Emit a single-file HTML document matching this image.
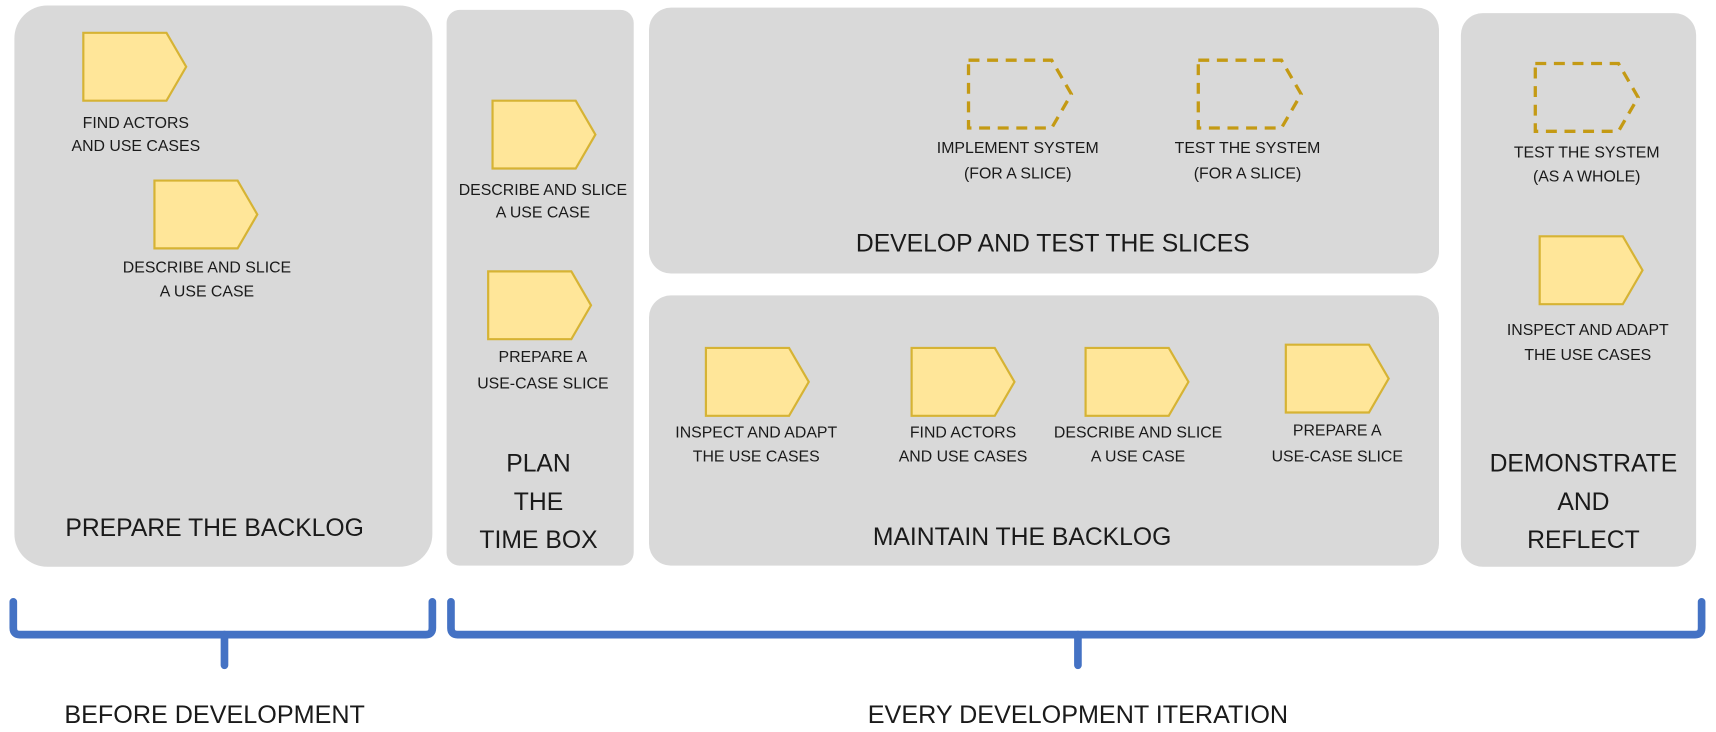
<!DOCTYPE html>
<html><head><style>html,body{margin:0;padding:0;background:#fff}svg{display:block}</style></head>
<body>
<svg width="1716" height="732" viewBox="0 0 1568 669" xmlns="http://www.w3.org/2000/svg" font-family="'Liberation Sans', sans-serif" fill="#1a1a1a">
<defs>
<symbol id="p" overflow="visible"><path d="M0,0 H76 L94,31 L76,62 H0 Z" fill="#ffe699" stroke="#d6b334" stroke-width="2"/></symbol>
<symbol id="d" overflow="visible"><path d="M0,0 H76 L94,31 L76,62 H0 Z" fill="none" stroke="#c49a14" stroke-width="3" stroke-dasharray="10,7"/></symbol>
</defs>
<g fill="#d9d9d9">
<rect x="13" y="5" width="382" height="513" rx="30"/>
<rect x="408" y="9" width="171" height="508" rx="12"/>
<rect x="593" y="7" width="722" height="243" rx="20"/>
<rect x="593" y="270" width="722" height="247" rx="20"/>
<rect x="1335" y="12" width="215" height="506" rx="20"/>
</g>
<use href="#p" x="76" y="30"/><use href="#p" x="141" y="165"/>
<use href="#p" x="450" y="92"/><use href="#p" x="446" y="248"/>
<use href="#d" x="885" y="55"/><use href="#d" x="1095" y="55"/><use href="#d" x="1403" y="58"/>
<use href="#p" x="1407" y="216"/>
<use href="#p" x="645" y="318"/><use href="#p" x="833" y="318"/><use href="#p" x="992" y="318"/><use href="#p" x="1175" y="315"/>
<g font-size="14.5" text-anchor="middle">
<text x="124" y="117">FIND ACTORS</text><text x="124" y="138">AND USE CASES</text>
<text x="189" y="249">DESCRIBE AND SLICE</text><text x="189" y="271">A USE CASE</text>
<text x="496" y="178">DESCRIBE AND SLICE</text><text x="496" y="199">A USE CASE</text>
<text x="496" y="331">PREPARE A</text><text x="496" y="355">USE-CASE SLICE</text>
<text x="930" y="140">IMPLEMENT SYSTEM</text><text x="930" y="163">(FOR A SLICE)</text>
<text x="1140" y="140">TEST THE SYSTEM</text><text x="1140" y="163">(FOR A SLICE)</text>
<text x="1450" y="144">TEST THE SYSTEM</text><text x="1450" y="166">(AS A WHOLE)</text>
<text x="1451" y="306">INSPECT AND ADAPT</text><text x="1451" y="329">THE USE CASES</text>
<text x="691" y="400">INSPECT AND ADAPT</text><text x="691" y="422">THE USE CASES</text>
<text x="880" y="400">FIND ACTORS</text><text x="880" y="422">AND USE CASES</text>
<text x="1040" y="400">DESCRIBE AND SLICE</text><text x="1040" y="422">A USE CASE</text>
<text x="1222" y="398">PREPARE A</text><text x="1222" y="422">USE-CASE SLICE</text>
</g>
<g font-size="22.6" text-anchor="middle">
<text x="196" y="490">PREPARE THE BACKLOG</text>
<text x="492" y="431">PLAN</text><text x="492" y="466">THE</text><text x="492" y="501">TIME BOX</text>
<text x="962" y="230">DEVELOP AND TEST THE SLICES</text>
<text x="934" y="498">MAINTAIN THE BACKLOG</text>
<text x="1447" y="431">DEMONSTRATE</text><text x="1447" y="466">AND</text><text x="1447" y="501">REFLECT</text>
</g>
<g fill="none" stroke="#4472c4" stroke-width="7" stroke-linecap="round">
<path d="M12,550 V574 Q12,580 18,580 H389 Q395,580 395,574 V550"/>
<path d="M205,580 V608"/>
<path d="M412,550 V574 Q412,580 418,580 H1549 Q1555,580 1555,574 V550"/>
<path d="M985,580 V608"/>
</g>
<g font-size="23" text-anchor="middle">
<text x="196" y="661">BEFORE DEVELOPMENT</text>
<text x="985" y="661">EVERY DEVELOPMENT ITERATION</text>
</g>
</svg>
</body></html>
